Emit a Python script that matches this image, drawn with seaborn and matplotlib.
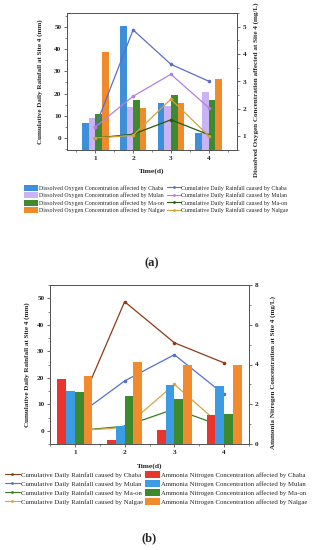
import numpy as np
import pandas as pd
import matplotlib
matplotlib.use("Agg")
import matplotlib.pyplot as plt
from matplotlib.patches import Patch
from matplotlib.lines import Line2D
from matplotlib.ticker import MultipleLocator
import seaborn as sns

# ---------------- data ----------------
days = [1, 2, 3, 4]
storms = ["Chaba", "Mulan", "Ma-on", "Nalgae"]

# cumulative daily rainfall at site 4 (mm)
rain_chaba = [5.0, 48.7, 33.2, 25.6]
rain_mulan = [5.0, 18.8, 28.7, 13.7]
rain_maon = [0.0, 1.7, 8.2, 1.5]
rain_nalgae = [0.0, 1.2, 17.5, 1.0]

# dissolved oxygen concentration (mg/L)
do_chaba = [1.49, 5.03, 2.22, 1.12]
do_mulan = [1.67, 2.08, 2.09, 2.61]
do_maon = [1.83, 2.31, 2.50, 2.34]
do_nalgae = [4.09, 2.03, 2.20, 3.08]

# ammonia nitrogen concentration (mg/L)
nh3_chaba = [3.27, 0.18, 0.72, 1.47]
nh3_mulan = [2.68, 0.93, 2.98, 2.93]
nh3_maon = [2.61, 2.43, 2.28, 1.51]
nh3_nalgae = [3.41, 4.14, 3.98, 3.98]

# ---------------- style ----------------
sns.set_style("ticks")
plt.rcParams["font.family"] = ["Liberation Serif", "DejaVu Serif"]
plt.rcParams["axes.linewidth"] = 0.7

SPINE = "#555555"


def long_df(series_list):
    rows = []
    for name, vals in zip(storms, series_list):
        for d, v in zip(days, vals):
            rows.append({"day": d, "storm": name, "value": v})
    return pd.DataFrame(rows)


rain_df = long_df([rain_chaba, rain_mulan, rain_maon, rain_nalgae])
do_df = long_df([do_chaba, do_mulan, do_maon, do_nalgae])
nh3_df = long_df([nh3_chaba, nh3_mulan, nh3_maon, nh3_nalgae])


def style_axes(ax, axr, xlim, ylim_l, ylim_r, rmajor, rminor):
    ax.set_xlim(*xlim)
    ax.set_ylim(*ylim_l)
    axr.set_ylim(*ylim_r)
    ax.xaxis.set_major_locator(MultipleLocator(1))
    ax.xaxis.set_minor_locator(MultipleLocator(0.5))
    ax.yaxis.set_major_locator(MultipleLocator(10))
    ax.yaxis.set_minor_locator(MultipleLocator(5))
    axr.yaxis.set_major_locator(MultipleLocator(rmajor))
    axr.yaxis.set_minor_locator(MultipleLocator(rminor))
    for a in (ax, axr):
        for s in a.spines.values():
            s.set_visible(True)
            s.set_color(SPINE)
            s.set_linewidth(0.7)
        a.tick_params(which="major", length=2.5, width=0.6, pad=1.5,
                      labelsize=5.2, color=SPINE)
        a.tick_params(which="minor", length=1.5, width=0.5, color=SPINE)
        for lab in a.get_xticklabels() + a.get_yticklabels():
            lab.set_fontweight("bold")
    axr.tick_params(axis="y", which="both", right=True, left=False)
    ax.tick_params(axis="y", which="both", left=True, right=False)


def draw_bars(axr, df, colors):
    sns.barplot(data=df, x="day", y="value", hue="storm", hue_order=storms,
                palette=colors, native_scale=True, width=0.7, dodge=True,
                errorbar=None, saturation=1, legend=False, ax=axr,
                linewidth=0)
    axr.set_xlabel("")


def draw_lines(ax, df, colors):
    sns.lineplot(data=df, x="day", y="value", hue="storm", hue_order=storms,
                 palette=colors, marker="o", markersize=2.6, markeredgewidth=0,
                 linewidth=0.9, legend=False, ax=ax)
    ax.set_xlabel("")


fig = plt.figure(figsize=(3.17, 5.5), dpi=100)

# ---------------- panel (a) ----------------
bar_a = ["#3d8fd9", "#c9b3f2", "#3f8a2f", "#f08a2c"]
line_a = ["#5a6ec9", "#b27fe6", "#285a10", "#d2a23a"]

axa = fig.add_axes([67 / 317, 1 - 150 / 550, 170 / 317, 137 / 550])
axa_r = axa.twinx()
draw_bars(axa_r, do_df, bar_a)
draw_lines(axa, rain_df, line_a)
axa.set_zorder(axa_r.get_zorder() + 1)
axa.patch.set_visible(False)
style_axes(axa, axa_r, (0.25, 4.75), (-5.4, 56.3), (0.5, 5.5), 1, 0.5)
axa.set_ylabel("Cumulative Daily Rainfall at Site 4 (mm)", fontsize=5.1,
               fontweight="bold")
axa_r.set_ylabel("Dissolved Oxygen Concentration affected at Site 4 (mg/L)",
                 fontsize=5.1, fontweight="bold")
axa.yaxis.set_label_coords(-0.14, 0.5)
axa_r.yaxis.set_label_coords(1.094, 0.44)
axa.set_xlabel("Time(d)", fontsize=5.4, fontweight="bold")
axa.xaxis.set_label_coords(0.5, -0.13)

handles_a = [Patch(facecolor=c, edgecolor="none") for c in bar_a] + \
    [Line2D([], [], color=c, marker="o", markersize=2, markeredgewidth=0, lw=0.8)
     for c in line_a]
labels_a = [f"Dissolved Oxygen Concentration affected by {s}" for s in storms] + \
    [f"Cumulative Daily Rainfall caused by {s}" for s in storms]
fig.legend(handles_a, labels_a, ncol=2, loc="upper left",
           bbox_to_anchor=(24 / 317, 1 - 185 / 550), frameon=False,
           fontsize=4.2, handlelength=2.4, handleheight=1.2,
           handletextpad=0.15, columnspacing=0.3, labelspacing=0.25,
           borderpad=0, borderaxespad=0)

fig.text(152 / 317, 1 - 263 / 550, "(a)", ha="center", va="center",
         fontsize=9, fontweight="bold")

# ---------------- panel (b) ----------------
bar_b = ["#e8352e", "#3b9be3", "#3d8a2e", "#f28b2d"]
line_b = ["#8e3b17", "#5470d6", "#3a7d1f", "#d9a441"]

axb = fig.add_axes([50 / 317, 1 - 444 / 550, 199 / 317, 159 / 550])
draw_lines(axb, rain_df, line_b)
axb_r = axb.twinx()
draw_bars(axb_r, nh3_df, bar_b)
style_axes(axb, axb_r, (0.5, 4.5), (-5, 55), (0, 8), 2, 1)
axb.set_ylabel("Cumulative Daily Rainfall at Site 4 (mm)", fontsize=5.1,
               fontweight="bold")
axb_r.set_ylabel("Ammonia Nitrogen Concentration at Site 4 (mg/L)",
                 fontsize=5.1, fontweight="bold")
axb.yaxis.set_label_coords(-0.1, 0.5)
axb_r.yaxis.set_label_coords(1.106, 0.45)
axb.set_xlabel("Time(d)", fontsize=5.4, fontweight="bold")
axb.xaxis.set_label_coords(0.5, -0.12)

handles_b = [Line2D([], [], color=c, marker="o", markersize=2, markeredgewidth=0, lw=0.8)
             for c in line_b] + \
    [Patch(facecolor=c, edgecolor="none") for c in bar_b]
labels_b = [f"Cumulative Daily Rainfall caused by {s}" for s in storms] + \
    [f"Ammonia Nitrogen Concentration affected by {s}" for s in storms]
fig.legend(handles_b, labels_b, ncol=2, loc="upper left",
           bbox_to_anchor=(5 / 317, 1 - 471 / 550), frameon=False,
           fontsize=4.9, handlelength=2.2, handleheight=1.2,
           handletextpad=0.15, columnspacing=0.3, labelspacing=0.3,
           borderpad=0, borderaxespad=0)

fig.text(149 / 317, 1 - 538 / 550, "(b)", ha="center", va="center",
         fontsize=9, fontweight="bold")

fig.savefig("out.png", dpi=100, facecolor="white")
